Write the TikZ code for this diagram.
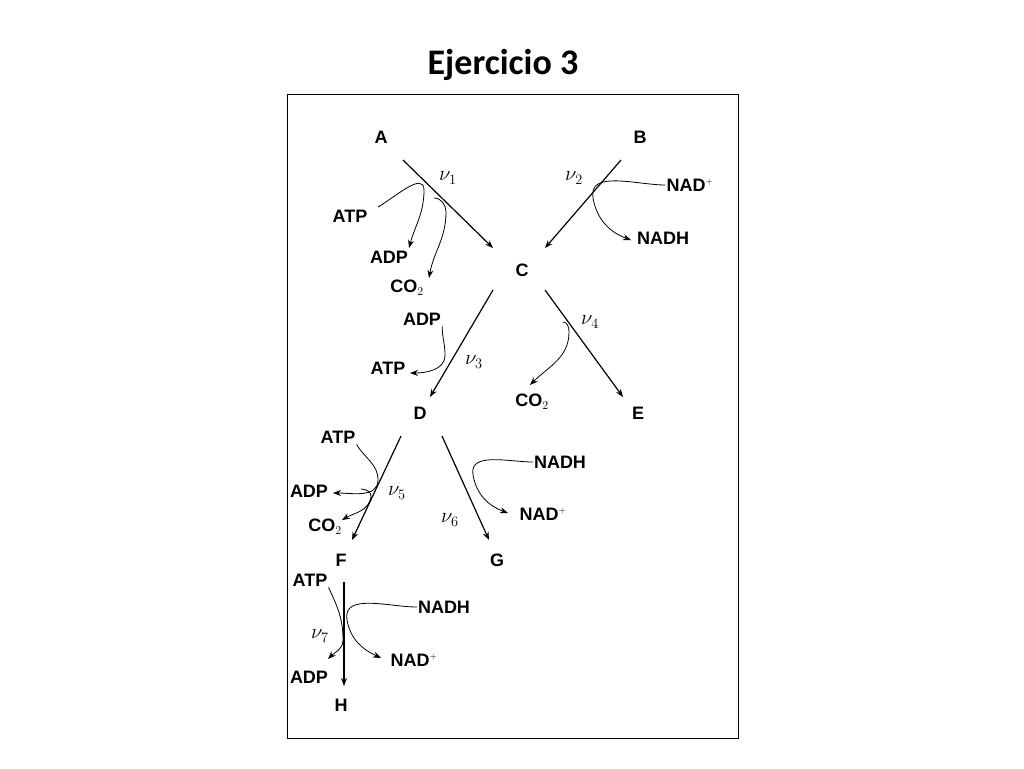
\documentclass[tikz,border=0pt]{standalone}
\usepackage{fontspec}
\setmainfont{Liberation Sans}
\newfontfamily\titlefont{Carlito}
\usetikzlibrary{arrows.meta}
\tikzset{
  met/.style={font=\bfseries\fontsize{18}{20}\selectfont, inner sep=1pt},
  rate/.style={font=\fontsize{20}{22}\selectfont, inner sep=1pt},
  flux/.style={line width=1.2pt, -{Stealth[length=8pt,width=6pt]}},
  side/.style={line width=0.8pt, -{Stealth[length=8pt,width=6pt]}}
}
\begin{document}
\begin{tikzpicture}[x=1pt,y=-1pt]
  \useasboundingbox (0,0) rectangle (1024,768);
  \node[font=\titlefont\bfseries\fontsize{36}{40}\selectfont] (title) at (503,65) {Ejercicio 3};
  \draw[line width=0.8pt] (287,94) rectangle (738,738);
  % metabolites
  \node[met] (A) at (381,137) {A}; \node[met] (B) at (640,137) {B};
  \node[met] (C) at (522,270) {C};
  \node[met] (D) at (420,413) {D}; \node[met] (E) at (638,413) {E};
  \node[met] (F) at (341,560) {F}; \node[met] (G) at (497,560) {G};
  \node[met] (H) at (341,705) {H};
  % rates
  \node[rate] (v1) at (448,178) {$\nu_1$}; \node[rate] (v2) at (574,178) {$\nu_2$};
  \node[rate] (v3) at (474,362) {$\nu_3$}; \node[rate] (v4) at (590,322) {$\nu_4$};
  \node[rate] (v5) at (397,493) {$\nu_5$}; \node[rate] (v6) at (450,520) {$\nu_6$};
  \node[rate] (v7) at (320,636) {$\nu_7$};
  % cofactors
  \node[met] (atpa) at (350,216) {ATP}; \node[met] (adpa) at (389,257) {ADP};
  \node[met] (coa) at (407,288) {CO$_2$};
  \node[met] (nadb) at (690,185) {NAD$^{\scriptscriptstyle +}$}; \node[met] (nadhb) at (663,238) {NADH};
  \node[met] (adpc) at (422,319) {ADP}; \node[met] (atpc) at (388,368) {ATP};
  \node[met] (cod) at (532,402) {CO$_2$};
  \node[met] (atpe) at (338,437) {ATP}; \node[met] (adpe) at (309,491) {ADP};
  \node[met] (coe) at (325,527) {CO$_2$};
  \node[met] (nadhf) at (560,462) {NADH}; \node[met] (nadf) at (543,514) {NAD$^{\scriptscriptstyle +}$};
  \node[met] (atpg) at (310,580) {ATP}; \node[met] (nadhg) at (444,607) {NADH};
  \node[met] (nadg) at (414,660) {NAD$^{\scriptscriptstyle +}$}; \node[met] (adpg) at (309,677) {ADP};
  % main fluxes
  \draw[flux] (403,160) -- (493,248);
  \draw[flux] (621,160) -- (545,248);
  \draw[flux] (493,290) -- (430,397);
  \draw[flux] (545,290) -- (623,397);
  \draw[flux] (401,436) -- (352,540);
  \draw[flux] (442,436) -- (489,540);
  \draw[flux] (344,582) -- (344,686);
  % cofactor curves
  \draw[side] (378,207) to[out=30,in=90] (424,190) to[out=-90,in=75] (409,248);
  \draw[side] (434,198) to[out=0,in=90] (446,212) to[out=-90,in=80] (429,278);
  \draw[side] (nadb.west) to[out=180,in=100] (593,198) to[out=-80,in=160] (631,240);
  \draw[side] (adpc.south east) to[out=-90,in=90] (445,355) to[out=-90,in=0] (410,373);
  \draw[side] (563,322) to[out=0,in=90] (569,332) to[out=-90,in=45] (530,385);
  \draw[side] (atpe.south east) to[out=-60,in=90] (378,480) to[out=-90,in=0] (333,493);
  \draw[side] (361,489) to[out=0,in=80] (371,497) to[out=-100,in=30] (342,520);
  \draw[side] (nadhf.west) to[out=180,in=100] (473,475) to[out=-80,in=160] (508,513);
  \draw[side] (atpg.south east) to[out=-65,in=90] (343,640) to[out=-90,in=45] (328,659);
  \draw[side] (nadhg.west) to[out=180,in=100] (347,620) to[out=-80,in=155] (381,658);
\end{tikzpicture}
\end{document}
